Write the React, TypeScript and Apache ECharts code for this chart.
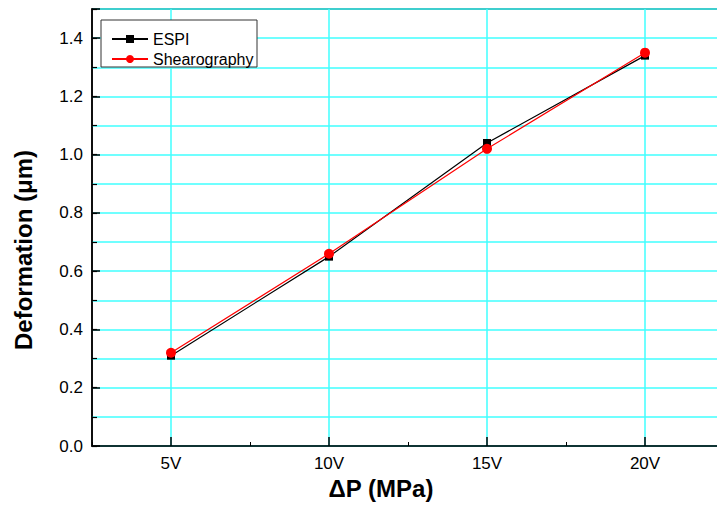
import React, { useEffect, useRef } from "react";
import * as echarts from "echarts";

const categories = ["5V", "10V", "15V", "20V"];
const espiValues = [0.31, 0.65, 1.04, 1.34];
const shearValues = [0.32, 0.66, 1.02, 1.35];
const seriesNames = ["ESPI", "Shearography"];
const xTitle = "ΔP (MPa)";
const yTitle = "Deformation (μm)";

const FONT = "'Liberation Sans', Arial, sans-serif";
const GRID_COLOR = "#40ffff";

export default function App() {
  const ref = useRef<HTMLDivElement>(null);
  useEffect(() => {
    if (!ref.current) return;
    const chart = echarts.init(ref.current, undefined, { renderer: "svg" });
    const option: any = {
      animation: false,
      backgroundColor: "#ffffff",
      textStyle: { fontFamily: FONT },
      grid: {
        left: 92,
        top: 9,
        right: 16,
        bottom: 60,
        show: true,
        borderColor: "#000",
        borderWidth: 1.5,
        backgroundColor: "transparent",
      },
      legend: {
        left: 111,
        top: 29,
        orient: "vertical",
        padding: 0,
        itemGap: 0,
        itemWidth: 36,
        itemHeight: 10,
        z: 10,
        textStyle: { fontFamily: FONT, fontSize: 16, color: "#000", lineHeight: 20 },
        data: seriesNames,
      },
      graphic: [
        {
          type: "rect",
          z: 5,
          shape: { x: 101, y: 20, width: 156, height: 47 },
          style: { fill: "#fff", stroke: "#333", lineWidth: 1 },
        },
        {
          type: "text",
          x: 381,
          y: 488,
          style: {
            text: xTitle,
            font: `bold 24px ${FONT}`,
            fill: "#000",
            align: "center",
            verticalAlign: "middle",
          },
        },
        {
          type: "text",
          x: 23,
          y: 250,
          rotation: Math.PI / 2,
          style: {
            text: yTitle,
            font: `bold 24px ${FONT}`,
            fill: "#000",
            align: "center",
            verticalAlign: "middle",
          },
        },
      ],
      xAxis: [
        {
          type: "category",
          data: categories,
          boundaryGap: true,
          axisLine: { show: true, lineStyle: { color: "#000", width: 1.5 } },
          axisTick: {
            show: true,
            alignWithLabel: true,
            inside: true,
            length: 9,
            lineStyle: { color: "#000", width: 1.5 },
          },
          axisLabel: { fontFamily: FONT, fontSize: 17, color: "#000", margin: 9 },
          splitLine: {
            show: true,
            alignWithLabel: true,
            lineStyle: { color: GRID_COLOR, width: 1.5 },
          },
        },
        {
          type: "category",
          data: categories,
          boundaryGap: true,
          position: "bottom",
          axisLine: { show: false },
          axisTick: {
            show: true,
            inside: true,
            length: 4,
            lineStyle: { color: "#000", width: 1 },
          },
          axisLabel: { show: false },
          splitLine: { show: false },
        },
      ],
      yAxis: [
        {
          type: "value",
          min: 0,
          max: 1.5,
          interval: 0.1,
          axisLine: { show: true, lineStyle: { color: "#000", width: 1.5 } },
          axisTick: {
            show: true,
            inside: true,
            length: 5,
            lineStyle: { color: "#000", width: 1.2 },
          },
          axisLabel: {
            fontFamily: FONT,
            fontSize: 17,
            color: "#000",
            margin: 9,
            formatter: (v: number) => (Math.round(v * 10) % 2 === 0 ? v.toFixed(1) : ""),
          },
          splitLine: { show: true, lineStyle: { color: GRID_COLOR, width: 1.5 } },
        },
        {
          type: "value",
          min: 0,
          max: 1.5,
          interval: 0.2,
          position: "left",
          axisLine: { show: false },
          axisTick: {
            show: true,
            inside: true,
            length: 8,
            lineStyle: { color: "#000", width: 1.5 },
          },
          axisLabel: { show: false },
          splitLine: { show: false },
        },
      ],
      series: [
        {
          name: seriesNames[0],
          type: "line",
          data: espiValues,
          symbol: "rect",
          symbolSize: 8,
          z: 3,
          lineStyle: { color: "#000", width: 1.2 },
          itemStyle: { color: "#000" },
        },
        {
          name: seriesNames[1],
          type: "line",
          data: shearValues,
          symbol: "circle",
          symbolSize: 10,
          z: 4,
          lineStyle: { color: "#ff0000", width: 1.2 },
          itemStyle: { color: "#ff0000" },
        },
      ],
    };
    chart.setOption(option);
    return () => chart.dispose();
  }, []);
  return (
    <div
      style={{
        position: "fixed",
        left: 0,
        top: 0,
        width: 717,
        height: 506,
        overflow: "hidden",
        background: "#fff",
      }}
    >
      <div ref={ref} style={{ width: 740, height: 506 }} />
    </div>
  );
}
